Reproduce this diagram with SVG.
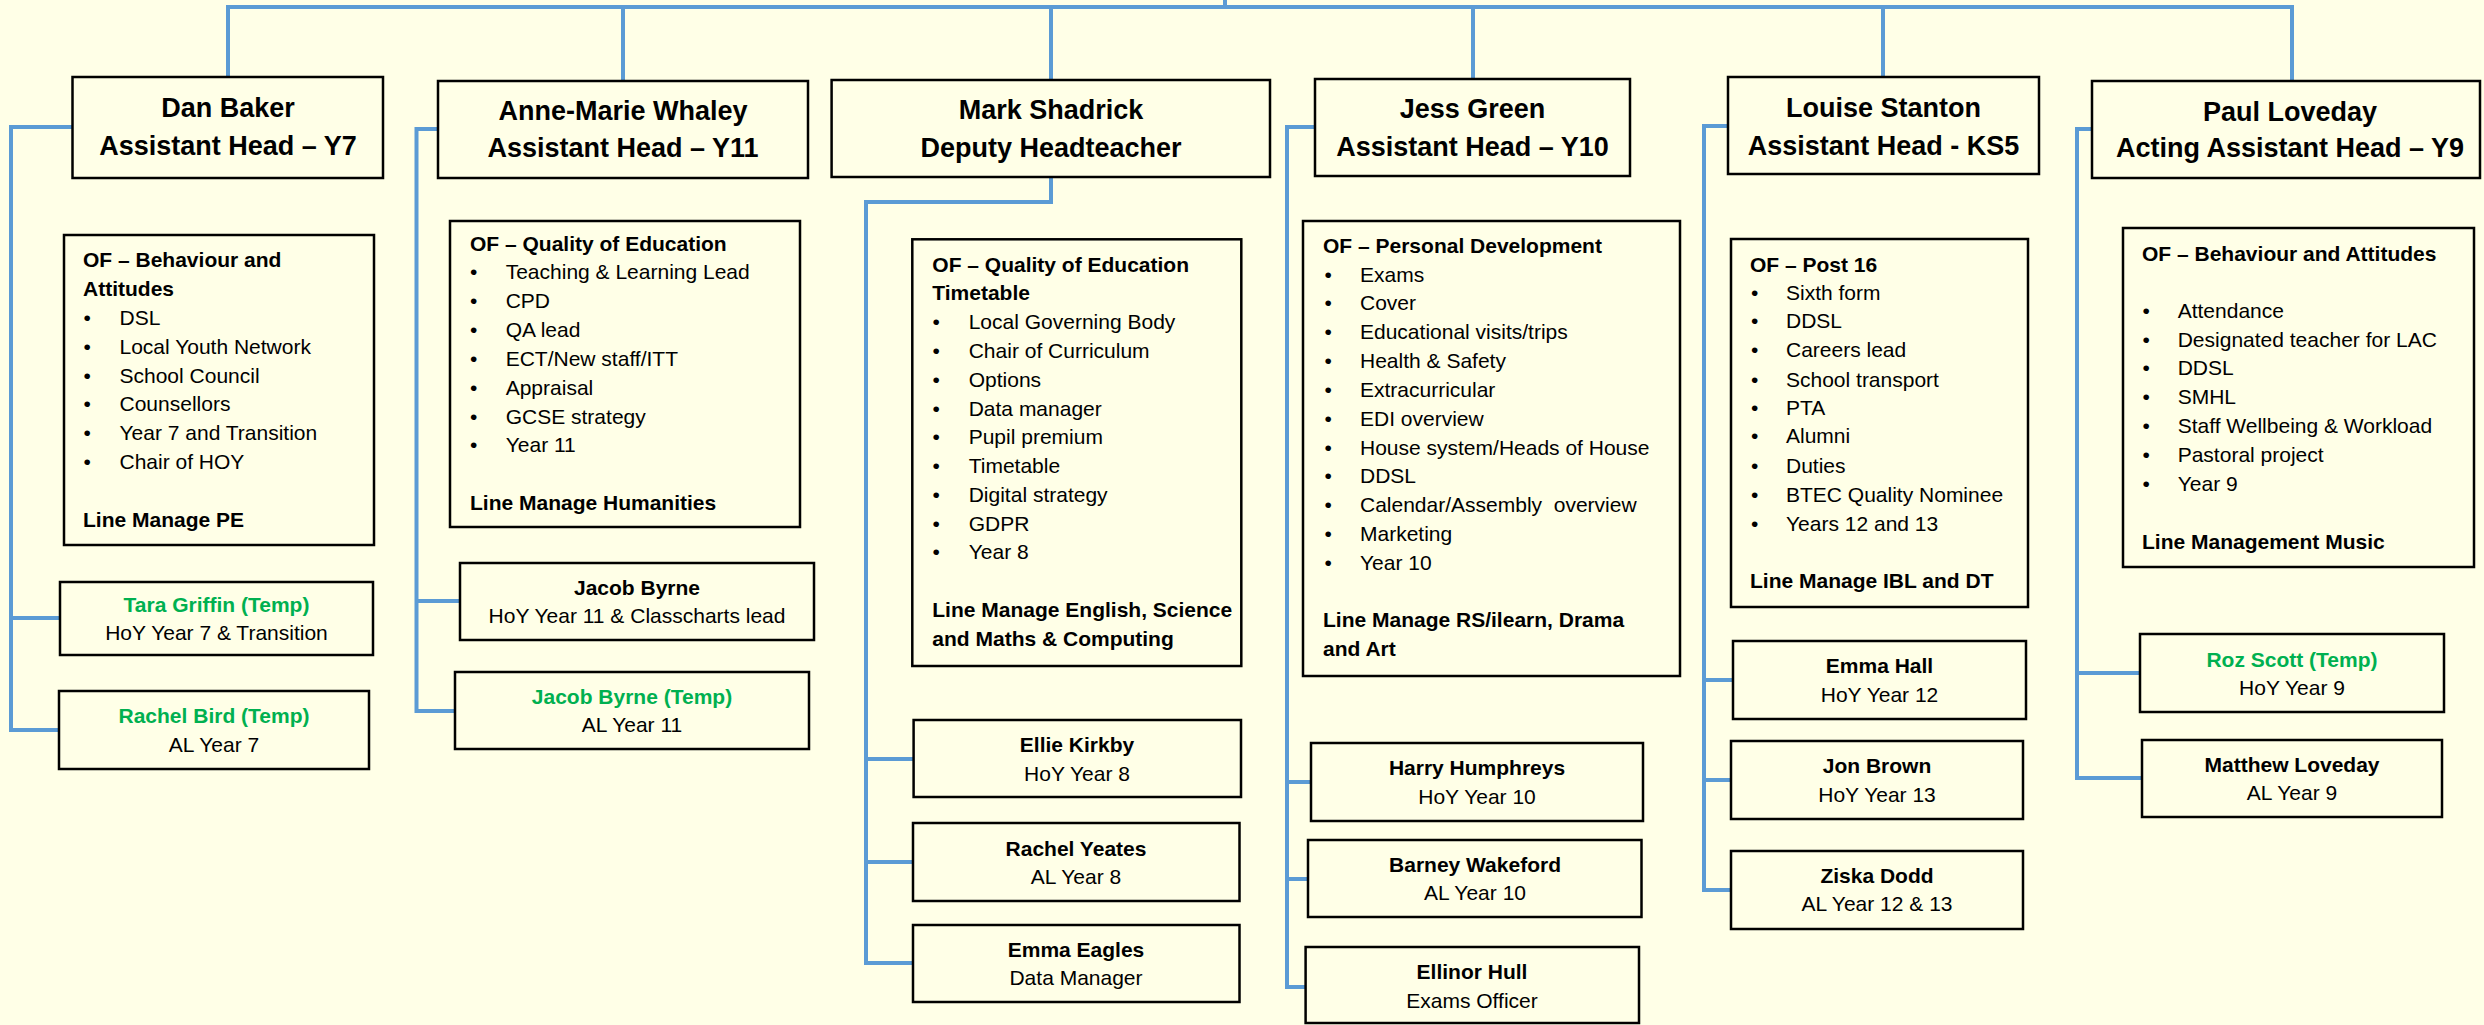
<svg xmlns="http://www.w3.org/2000/svg" width="2484" height="1025" viewBox="0 0 2484 1025">
<style>
.bg{fill:#FFFFE7}
.box{fill:#FFFFE7;stroke:#000;stroke-width:2.5}
.conn{fill:none;stroke:#5B9BD5;stroke-width:4}
text{font-family:"Liberation Sans",Arial,sans-serif;fill:#000}
.t{font-size:27px;font-weight:bold;text-anchor:middle}
.n{font-size:21px;font-weight:bold;text-anchor:middle}
.r{font-size:21px;text-anchor:middle}
.h{font-size:21px;font-weight:bold}
.i{font-size:21px}
.g{fill:#00B050}
</style>
<rect class="bg" x="0" y="0" width="2484" height="1025"/>
<g id="connectors">
<path class="conn" d="M228,77 V7 H2292 V81 M623,7 V81 M1051,7 V80 M1473,7 V79 M1883,7 V77 M1225,0 V7"/>
<path class="conn" d="M72.5,127 H11 V730 H59 M11,618 H60"/>
<path class="conn" d="M438,129 H416.5 V711 H455 M416.5,601 H460"/>
<path class="conn" d="M1051,177 V202 H866 V963 H913 M866,759 H913.6 M866,862 H913"/>
<path class="conn" d="M1315,127 H1287 V987 H1305.6 M1287,782 H1311 M1287,879 H1308"/>
<path class="conn" d="M1728,126 H1704 V890 H1731 M1704,680 H1733 M1704,780 H1731"/>
<path class="conn" d="M2092,129 H2077 V778 H2142 M2077,673 H2140"/>
</g>

<g id="dan-baker">
<rect class="box" x="72.5" y="77" width="310.5" height="101"/>
<text class="t" x="228" y="117">Dan Baker</text>
<text class="t" x="228" y="155">Assistant Head – Y7</text>
</g>
<g id="anne-marie-whaley">
<rect class="box" x="438" y="81" width="370" height="97"/>
<text class="t" x="623" y="120">Anne-Marie Whaley</text>
<text class="t" x="623" y="157">Assistant Head – Y11</text>
</g>
<g id="mark-shadrick">
<rect class="box" x="831.6" y="80" width="438.4" height="97"/>
<text class="t" x="1051" y="119">Mark Shadrick</text>
<text class="t" x="1051" y="156.7">Deputy Headteacher</text>
</g>
<g id="jess-green">
<rect class="box" x="1315" y="79" width="315" height="97"/>
<text class="t" x="1472.5" y="118">Jess Green</text>
<text class="t" x="1472.5" y="156">Assistant Head – Y10</text>
</g>
<g id="louise-stanton">
<rect class="box" x="1728" y="77" width="311" height="97"/>
<text class="t" x="1883.5" y="117">Louise Stanton</text>
<text class="t" x="1883.5" y="155">Assistant Head - KS5</text>
</g>
<g id="paul-loveday">
<rect class="box" x="2092" y="81" width="388" height="97"/>
<text class="t" x="2290" y="120.7">Paul Loveday</text>
<text class="t" x="2290" y="157.3">Acting Assistant Head – Y9</text>
</g>

<g id="dan-baker-remit">
<rect class="box" x="64" y="235" width="310" height="310"/>
<text class="h" x="83" y="267">OF – Behaviour and</text>
<text class="h" x="83" y="296">Attitudes</text>
<text class="i" x="83.5" y="325">•</text><text class="i" x="119.5" y="325">DSL</text>
<text class="i" x="83.5" y="353.5">•</text><text class="i" x="119.5" y="353.5">Local Youth Network</text>
<text class="i" x="83.5" y="382.5">•</text><text class="i" x="119.5" y="382.5">School Council</text>
<text class="i" x="83.5" y="411">•</text><text class="i" x="119.5" y="411">Counsellors</text>
<text class="i" x="83.5" y="440">•</text><text class="i" x="119.5" y="440">Year 7 and Transition</text>
<text class="i" x="83.5" y="469">•</text><text class="i" x="119.5" y="469">Chair of HOY</text>
<text class="h" x="83" y="527">Line Manage PE</text>
</g>
<g id="anne-marie-whaley-remit">
<rect class="box" x="450" y="221" width="350" height="306"/>
<text class="h" x="470" y="250.7">OF – Quality of Education</text>
<text class="i" x="470" y="279.3">•</text><text class="i" x="505.7" y="279.3">Teaching &amp; Learning Lead</text>
<text class="i" x="470" y="308.3">•</text><text class="i" x="505.7" y="308.3">CPD</text>
<text class="i" x="470" y="337.3">•</text><text class="i" x="505.7" y="337.3">QA lead</text>
<text class="i" x="470" y="365.7">•</text><text class="i" x="505.7" y="365.7">ECT/New staff/ITT</text>
<text class="i" x="470" y="395">•</text><text class="i" x="505.7" y="395">Appraisal</text>
<text class="i" x="470" y="424">•</text><text class="i" x="505.7" y="424">GCSE strategy</text>
<text class="i" x="470" y="452.3">•</text><text class="i" x="505.7" y="452.3">Year 11</text>
<text class="h" x="470" y="510">Line Manage Humanities</text>
</g>
<g id="mark-shadrick-remit">
<rect class="box" x="912.3" y="239.3" width="329" height="426.7"/>
<text class="h" x="932.3" y="271.7">OF – Quality of Education</text>
<text class="h" x="932.3" y="300">Timetable</text>
<text class="i" x="932.5" y="329.3">•</text><text class="i" x="968.7" y="329.3">Local Governing Body</text>
<text class="i" x="932.5" y="358.3">•</text><text class="i" x="968.7" y="358.3">Chair of Curriculum</text>
<text class="i" x="932.5" y="386.7">•</text><text class="i" x="968.7" y="386.7">Options</text>
<text class="i" x="932.5" y="415.7">•</text><text class="i" x="968.7" y="415.7">Data manager</text>
<text class="i" x="932.5" y="444.3">•</text><text class="i" x="968.7" y="444.3">Pupil premium</text>
<text class="i" x="932.5" y="473.3">•</text><text class="i" x="968.7" y="473.3">Timetable</text>
<text class="i" x="932.5" y="501.7">•</text><text class="i" x="968.7" y="501.7">Digital strategy</text>
<text class="i" x="932.5" y="531">•</text><text class="i" x="968.7" y="531">GDPR</text>
<text class="i" x="932.5" y="559.3">•</text><text class="i" x="968.7" y="559.3">Year 8</text>
<text class="h" x="932.3" y="616.7">Line Manage English, Science</text>
<text class="h" x="932.3" y="645.7">and Maths &amp; Computing</text>
</g>
<g id="jess-green-remit">
<rect class="box" x="1303" y="221" width="377" height="455"/>
<text class="h" x="1323" y="253.3">OF – Personal Development</text>
<text class="i" x="1324.5" y="281.7">•</text><text class="i" x="1360" y="281.7">Exams</text>
<text class="i" x="1324.5" y="310">•</text><text class="i" x="1360" y="310">Cover</text>
<text class="i" x="1324.5" y="339.3">•</text><text class="i" x="1360" y="339.3">Educational visits/trips</text>
<text class="i" x="1324.5" y="367.7">•</text><text class="i" x="1360" y="367.7">Health &amp; Safety</text>
<text class="i" x="1324.5" y="396.7">•</text><text class="i" x="1360" y="396.7">Extracurricular</text>
<text class="i" x="1324.5" y="425.7">•</text><text class="i" x="1360" y="425.7">EDI overview</text>
<text class="i" x="1324.5" y="455">•</text><text class="i" x="1360" y="455">House system/Heads of House</text>
<text class="i" x="1324.5" y="483.3">•</text><text class="i" x="1360" y="483.3">DDSL</text>
<text class="i" x="1324.5" y="512.3">•</text><text class="i" x="1360" y="512.3" xml:space="preserve">Calendar/Assembly  overview</text>
<text class="i" x="1324.5" y="540.7">•</text><text class="i" x="1360" y="540.7">Marketing</text>
<text class="i" x="1324.5" y="570">•</text><text class="i" x="1360" y="570">Year 10</text>
<text class="h" x="1323" y="627.3">Line Manage RS/ilearn, Drama</text>
<text class="h" x="1323" y="655.7">and Art</text>
</g>
<g id="louise-stanton-remit">
<rect class="box" x="1731" y="239" width="297" height="368"/>
<text class="h" x="1750" y="271.7">OF – Post 16</text>
<text class="i" x="1751" y="300">•</text><text class="i" x="1786" y="300">Sixth form</text>
<text class="i" x="1751" y="328.3">•</text><text class="i" x="1786" y="328.3">DDSL</text>
<text class="i" x="1751" y="357.3">•</text><text class="i" x="1786" y="357.3">Careers lead</text>
<text class="i" x="1751" y="386.7">•</text><text class="i" x="1786" y="386.7">School transport</text>
<text class="i" x="1751" y="415">•</text><text class="i" x="1786" y="415">PTA</text>
<text class="i" x="1751" y="443.3">•</text><text class="i" x="1786" y="443.3">Alumni</text>
<text class="i" x="1751" y="472.7">•</text><text class="i" x="1786" y="472.7">Duties</text>
<text class="i" x="1751" y="501.7">•</text><text class="i" x="1786" y="501.7">BTEC Quality Nominee</text>
<text class="i" x="1751" y="530.7">•</text><text class="i" x="1786" y="530.7">Years 12 and 13</text>
<text class="h" x="1750" y="588.3">Line Manage IBL and DT</text>
</g>
<g id="paul-loveday-remit">
<rect class="box" x="2123" y="228" width="351" height="339"/>
<text class="h" x="2142" y="260.7">OF – Behaviour and Attitudes</text>
<text class="i" x="2142.5" y="318.3">•</text><text class="i" x="2177.7" y="318.3">Attendance</text>
<text class="i" x="2142.5" y="346.7">•</text><text class="i" x="2177.7" y="346.7">Designated teacher for LAC</text>
<text class="i" x="2142.5" y="375">•</text><text class="i" x="2177.7" y="375">DDSL</text>
<text class="i" x="2142.5" y="404">•</text><text class="i" x="2177.7" y="404">SMHL</text>
<text class="i" x="2142.5" y="433.3">•</text><text class="i" x="2177.7" y="433.3">Staff Wellbeing &amp; Workload</text>
<text class="i" x="2142.5" y="462.3">•</text><text class="i" x="2177.7" y="462.3">Pastoral project</text>
<text class="i" x="2142.5" y="490.7">•</text><text class="i" x="2177.7" y="490.7">Year 9</text>
<text class="h" x="2142" y="549">Line Management Music</text>
</g>

<g id="tara-griffin">
<rect class="box" x="60" y="582" width="313" height="73"/>
<text class="n g" x="216.5" y="611.7">Tara Griffin (Temp)</text>
<text class="r" x="216.5" y="640">HoY Year 7 &amp; Transition</text>
</g>
<g id="rachel-bird">
<rect class="box" x="59" y="691" width="310" height="78"/>
<text class="n g" x="214" y="723.3">Rachel Bird (Temp)</text>
<text class="r" x="214" y="751.7">AL Year 7</text>
</g>
<g id="jacob-byrne">
<rect class="box" x="460" y="563" width="354" height="77"/>
<text class="n" x="637" y="595">Jacob Byrne</text>
<text class="r" x="637" y="623.3">HoY Year 11 &amp; Classcharts lead</text>
</g>
<g id="jacob-byrne-temp">
<rect class="box" x="455" y="672" width="354" height="77"/>
<text class="n g" x="632" y="704">Jacob Byrne (Temp)</text>
<text class="r" x="632" y="732.3">AL Year 11</text>
</g>
<g id="ellie-kirkby">
<rect class="box" x="913.6" y="720" width="327.4" height="77"/>
<text class="n" x="1077" y="751.7">Ellie Kirkby</text>
<text class="r" x="1077" y="780.7">HoY Year 8</text>
</g>
<g id="rachel-yeates">
<rect class="box" x="913" y="823" width="326.5" height="78"/>
<text class="n" x="1076" y="855.5">Rachel Yeates</text>
<text class="r" x="1076" y="884">AL Year 8</text>
</g>
<g id="emma-eagles">
<rect class="box" x="913" y="925" width="326.5" height="77"/>
<text class="n" x="1076" y="956.7">Emma Eagles</text>
<text class="r" x="1076" y="985">Data Manager</text>
</g>
<g id="harry-humphreys">
<rect class="box" x="1311" y="743" width="332" height="78"/>
<text class="n" x="1477" y="775">Harry Humphreys</text>
<text class="r" x="1477" y="804">HoY Year 10</text>
</g>
<g id="barney-wakeford">
<rect class="box" x="1308" y="840" width="333.5" height="77"/>
<text class="n" x="1475" y="871.7">Barney Wakeford</text>
<text class="r" x="1475" y="900">AL Year 10</text>
</g>
<g id="ellinor-hull">
<rect class="box" x="1305.6" y="947" width="333.4" height="76"/>
<text class="n" x="1472" y="979.3">Ellinor Hull</text>
<text class="r" x="1472" y="1008.3">Exams Officer</text>
</g>
<g id="emma-hall">
<rect class="box" x="1733" y="641" width="293" height="78"/>
<text class="n" x="1879.5" y="673.3">Emma Hall</text>
<text class="r" x="1879.5" y="701.7">HoY Year 12</text>
</g>
<g id="jon-brown">
<rect class="box" x="1731" y="741" width="292" height="78"/>
<text class="n" x="1877" y="773.3">Jon Brown</text>
<text class="r" x="1877" y="801.7">HoY Year 13</text>
</g>
<g id="ziska-dodd">
<rect class="box" x="1731" y="851" width="292" height="78"/>
<text class="n" x="1877" y="882.7">Ziska Dodd</text>
<text class="r" x="1877" y="910.7">AL Year 12 &amp; 13</text>
</g>
<g id="roz-scott">
<rect class="box" x="2140" y="634" width="304" height="78"/>
<text class="n g" x="2292" y="666.7">Roz Scott (Temp)</text>
<text class="r" x="2292" y="695">HoY Year 9</text>
</g>
<g id="matthew-loveday">
<rect class="box" x="2142" y="740" width="300" height="77"/>
<text class="n" x="2292" y="771.7">Matthew Loveday</text>
<text class="r" x="2292" y="800">AL Year 9</text>
</g>
</svg>
